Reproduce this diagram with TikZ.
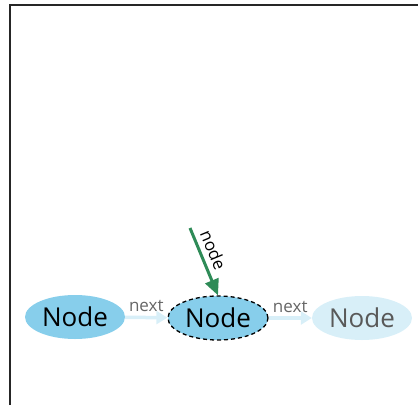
\documentclass[tikz,border=0pt]{standalone}
\usepackage{fontspec}
\setmainfont{Open Sans}
\usetikzlibrary{arrows.meta,shapes.geometric}
\definecolor{nodeblue}{HTML}{87CEEB}
\definecolor{fadeblue}{HTML}{D8EFF8}
\definecolor{ptrgreen}{HTML}{2E8B57}
\tikzset{
    listnode/.style={ellipse, fill=nodeblue, minimum width=100pt, minimum height=44pt,
        inner sep=0pt, font=\fontsize{26}{26}\selectfont},
    ghostnode/.style={listnode, fill=fadeblue, text=black!65},
    nextptr/.style={-{Triangle[length=11pt,width=13pt]}, line width=3.5pt, draw=fadeblue},
    nodeptr/.style={-{Triangle[length=16pt,width=14pt]}, line width=3pt, draw=ptrgreen},
    ptrlabel/.style={font=\fontsize{17}{17}\selectfont, inner sep=1pt}
}

\begin{document}
\begin{tikzpicture}[x=1pt,y=-1pt]
    \useasboundingbox (0,0) rectangle (418,405);
    % frame, only top and left show
    \draw[line width=2pt, black!85] (10,405) -- (10,5) -- (418,5);

    \node[listnode] (first) at (75,317) {Node};
    \node[listnode, draw, dash pattern=on 4pt off 3pt, line width=1.3pt] (cur) at (218,318) {Node};
    \node[ghostnode] (last) at (362,318) {Node};

    \draw[nextptr] (first) -- (cur) node[midway, above=3pt, ptrlabel, text=black!60] {next};
    \draw[nextptr] (cur) -- (last) node[midway, above=3pt, ptrlabel, text=black!60] {next};

    \coordinate (ptr) at (190,228);
    \draw[nodeptr] (ptr) -- (cur.north) node[pos=0.4, sloped, above=4pt, ptrlabel] {node};
\end{tikzpicture}
\end{document}
